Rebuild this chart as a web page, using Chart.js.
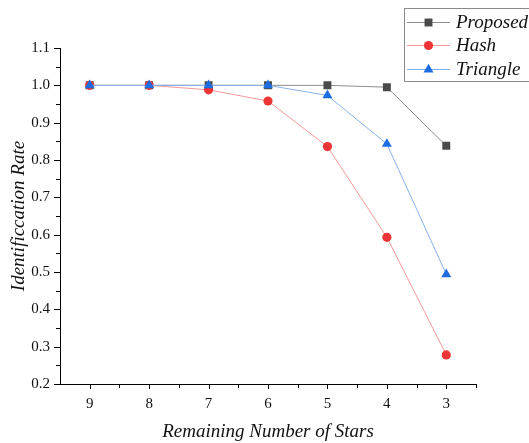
<!DOCTYPE html>
<html>
<head>
<meta charset="utf-8">
<script src="https://cdn.jsdelivr.net/npm/chart.js@4/dist/chart.umd.min.js"></script>
<style>
  html, body { margin: 0; padding: 0; background: #fff; }
  #wrap { width: 529px; height: 443px; }
</style>
</head>
<body>
<div id="wrap"><canvas id="c" width="529" height="443"></canvas></div>
<script>
// data
const stars = ['9', '8', '7', '6', '5', '4', '3'];
const proposed = [1.0, 1.0, 1.0, 1.0, 1.0, 0.995, 0.838];
const hash = [1.0, 1.0, 0.988, 0.958, 0.836, 0.593, 0.278];
const triangle = [1.0, 1.0, 1.0, 1.0, 0.973, 0.843, 0.494];
const yTicks = [0.2, 0.3, 0.4, 0.5, 0.6, 0.7, 0.8, 0.9, 1.0, 1.1];

const serif = '"Liberation Serif", "Times New Roman", serif';

const series = [
    { label: 'Proposed', data: proposed, line: '#8c8c8c', mark: '#4a4a4a', style: 'rect', r: 5.6, order: 3 },
    { label: 'Hash', data: hash, line: '#f49a9a', mark: '#ee3535', style: 'circle', r: 4.6, order: 2 },
    { label: 'Triangle', data: triangle, line: '#86b2ee', mark: '#1e6de0', style: 'triangle', r: 5.8, order: 1 }
];

// minor ticks + custom boxed legend (Origin style)
const originDecor = {
    id: 'originDecor',
    afterDraw(chart) {
        const ctx = chart.ctx;
        const x = chart.scales.x, y = chart.scales.y;
        ctx.save();
        ctx.strokeStyle = '#000';
        ctx.lineWidth = 1;
        ctx.beginPath();
        // y axis: major every 0.1, minor in between, pointing out
        yTicks.forEach((v, i) => {
            const py = Math.round(y.getPixelForValue(v)) + 0.5;
            ctx.moveTo(x.left, py); ctx.lineTo(x.left - 6, py);
            if (i < yTicks.length - 1) {
                const my = Math.round(y.getPixelForValue(v + 0.05)) + 0.5;
                ctx.moveTo(x.left, my); ctx.lineTo(x.left - 4, my);
            }
        });
        // x axis: major at categories, minor at the borders between them
        const half = (x.getPixelForTick(1) - x.getPixelForTick(0)) / 2;
        stars.forEach((s, i) => {
            const px = Math.round(x.getPixelForTick(i)) + 0.5;
            ctx.moveTo(px, y.bottom); ctx.lineTo(px, y.bottom + 5);
            const bx = Math.round(x.getPixelForTick(i) + half) + 0.5;
            ctx.moveTo(bx, y.bottom); ctx.lineTo(bx, y.bottom + 4);
        });
        ctx.stroke();

        // legend box
        const bx = 404.5, by = 8.5, bw = 140, bh = 73;
        ctx.strokeStyle = '#8a8a8a';
        ctx.strokeRect(bx, by, bw, bh);
        const rows = [22, 45, 69];
        ctx.font = 'italic 19px ' + serif;
        ctx.textBaseline = 'middle';
        ctx.textAlign = 'left';
        series.forEach((s, i) => {
            const ry = rows[i];
            ctx.strokeStyle = s.line;
            ctx.lineWidth = 1;
            ctx.beginPath();
            ctx.moveTo(407, ry + 0.5); ctx.lineTo(450, ry + 0.5);
            ctx.stroke();
            ctx.fillStyle = s.mark;
            Chart.helpers.drawPoint(ctx, { pointStyle: s.style, radius: s.r, rotation: 0, borderWidth: 0 }, 428.5, ry + 0.5);
            ctx.fillStyle = '#111';
            ctx.fillText(s.label, 456, ry + 1);
        });
        ctx.restore();
    }
};

new Chart(document.getElementById('c'), {
    type: 'line',
    data: {
        labels: stars,
        datasets: series.map(s => ({
            label: s.label,
            data: s.data,
            order: s.order,
            borderColor: s.line,
            borderWidth: 1,
            backgroundColor: s.mark,
            pointStyle: s.style,
            pointRadius: s.r,
            pointHoverRadius: s.r,
            pointBackgroundColor: s.mark,
            pointBorderColor: s.mark,
            pointBorderWidth: 0,
            tension: 0,
            fill: false
        }))
    },
    options: {
        responsive: false,
        animation: false,
        events: [],
        layout: { padding: { top: 48, right: 53, left: 0, bottom: 0 } },
        plugins: {
            legend: { display: false },
            tooltip: { enabled: false }
        },
        scales: {
            x: {
                type: 'category',
                offset: true,
                grid: { display: false, drawTicks: false },
                border: { display: true, color: '#000', width: 1 },
                ticks: { color: '#111', padding: 11, font: { family: serif, size: 15 } },
                title: {
                    display: true,
                    text: 'Remaining Number of Stars',
                    color: '#111',
                    padding: { top: 0, bottom: 0 },
                    font: { family: serif, size: 19, style: 'italic' }
                },
                afterFit(scale) { scale.height = 59; }
            },
            y: {
                min: 0.2,
                max: 1.1,
                grid: { display: false, drawTicks: false },
                border: { display: true, color: '#000', width: 1 },
                afterBuildTicks(scale) { scale.ticks = yTicks.map(v => ({ value: v })); },
                ticks: {
                    color: '#111',
                    padding: 10,
                    font: { family: serif, size: 15 },
                    callback: v => v.toFixed(1)
                },
                title: {
                    display: true,
                    text: 'Identificcation Rate',
                    color: '#111',
                    padding: { top: 8, bottom: 0 },
                    font: { family: serif, size: 19, style: 'italic' }
                },
                afterFit(scale) { scale.width = 60; }
            }
        }
    },
    plugins: [originDecor]
});
</script>
</body>
</html>
